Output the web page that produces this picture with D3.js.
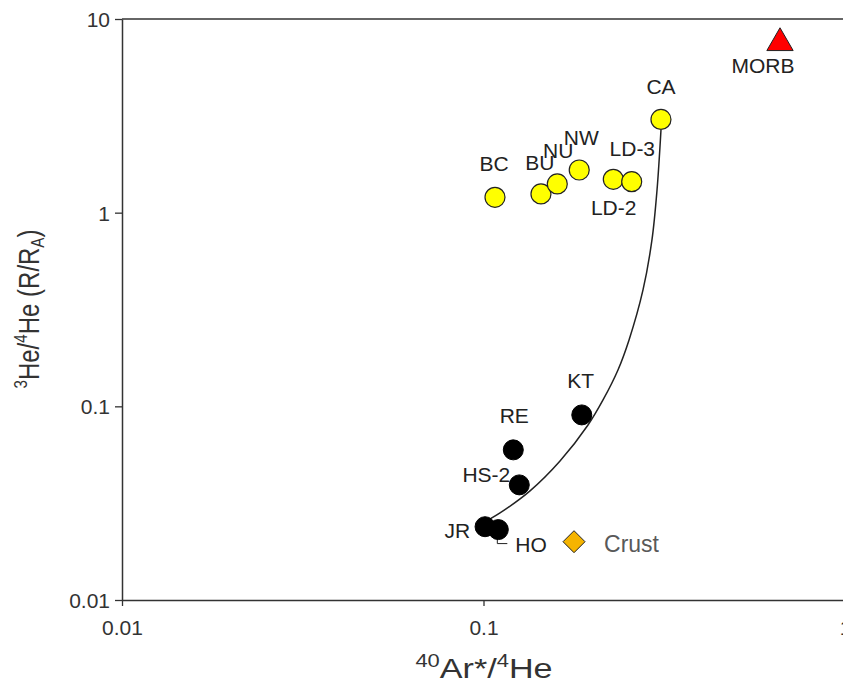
<!DOCTYPE html>
<html>
<head>
<meta charset="utf-8">
<script src="https://cdn.jsdelivr.net/npm/d3@7"></script>
<style>
  body { margin: 0; background: #fff; }
  text { font-family: "Liberation Sans", Arial, sans-serif; }
</style>
</head>
<body>
<div id="chart-area"></div>
<script>
// sample names and values (40Ar*/4He , 3He/4He R/RA)
var yellowNames = ["BC", "BU", "NU", "NW", "LD-3", "LD-2", "CA"];
var yellowAr = [0.1076, 0.1442, 0.160, 0.184, 0.2286, 0.257, 0.3097];
var yellowHe = [1.20, 1.249, 1.407, 1.661, 1.487, 1.446, 3.03];

var blackNames = ["KT", "RE", "HS-2", "JR", "HO"];
var blackAr = [0.187, 0.1209, 0.1256, 0.1010, 0.1099];
var blackHe = [0.0903, 0.0596, 0.0393, 0.0239, 0.0231];

var morbAr = [0.661], morbHe = [7.52];
var crustAr = [0.178], crustHe = [0.0200];

// mixing curve
var curveAr = [0.0995, 0.1111, 0.1345, 0.1628, 0.1946, 0.2141, 0.2355, 0.2527, 0.2762, 0.2924, 0.302, 0.3097];
var curveHe = [0.0250, 0.02817, 0.0366, 0.0522, 0.0801, 0.1079, 0.1541, 0.2202, 0.399, 0.723, 1.31, 2.673];

var xTicks = [0.01, 0.1, 1];
var xTickLabels = ["0.01", "0.1", "1"];
var yTicks = [0.01, 0.1, 1, 10];
var yTickLabels = ["0.01", "0.1", "1", "10"];

// label offsets from the point (dx, dy, anchor)
var labelPos = {
    "BC": [-1, -26, "middle"], "BU": [-1, -24, "middle"], "NU": [1, -26, "middle"],
    "NW": [2, -25, "middle"], "LD-3": [19, -23, "middle"], "LD-2": [-18, 33, "middle"],
    "CA": [0, -25, "middle"], "KT": [-1, -27, "middle"], "RE": [1, -27, "middle"],
    "HS-2": [-9, -3, "end"], "JR": [-15, 11, "end"], "HO": [17, 22, "start"],
    "MORB": [-17, 30, "middle"], "Crust": [30, 10, "start"]
};

var W = 843, H = 684;
var svg = d3.select("#chart-area")
    .append("svg")
        .attr("width", W)
        .attr("height", H);

var x = d3.scaleLog()
    .domain([0.01, 1])
    .range([122, 845]);

var y = d3.scaleLog()
    .domain([0.01, 10])
    .range([600, 19]);

// top frame line
svg.append("line")
    .attr("x1", 122).attr("x2", W)
    .attr("y1", y(10)).attr("y2", y(10))
    .attr("stroke", "#333").attr("stroke-width", 1.5);

var xAxisCall = d3.axisBottom(x)
    .tickValues(xTicks)
    .tickSize(6)
    .tickSizeOuter(0)
    .tickFormat((d, i) => xTickLabels[i]);

var xAxis = svg.append("g")
    .attr("transform", "translate(0," + y(0.01) + ")")
    .call(xAxisCall);

var yAxisCall = d3.axisLeft(y)
    .tickValues(yTicks)
    .tickSize(7)
    .tickSizeOuter(0)
    .tickFormat((d, i) => yTickLabels[i]);

var yAxis = svg.append("g")
    .attr("transform", "translate(" + x(0.01) + ",0)")
    .call(yAxisCall);

[xAxis, yAxis].forEach((a) => {
    a.select(".domain").attr("stroke", "#333").attr("stroke-width", 1.5);
    a.selectAll(".tick line").attr("stroke", "#333").attr("stroke-width", 1.3);
    a.selectAll(".tick text")
        .attr("font-family", "Liberation Sans, Arial, sans-serif")
        .attr("font-size", "21px")
        .attr("fill", "#333");
});
xAxis.selectAll(".tick text").attr("y", 14).attr("dy", "1em");
yAxis.selectAll(".tick text").attr("x", -12).attr("dy", "0.36em");

// X label
var xl = svg.append("text")
    .attr("transform", "translate(484,678) scale(1.22,1)")
    .attr("text-anchor", "middle")
    .attr("font-size", "28px")
    .attr("fill", "#333");
xl.append("tspan").attr("font-size", "18px").attr("dy", -11).text("40");
xl.append("tspan").attr("dy", 11).text("Ar*/");
xl.append("tspan").attr("font-size", "18px").attr("dy", -11).text("4");
xl.append("tspan").attr("dy", 11).text("He");

// Y label
var yl = svg.append("text")
    .attr("transform", "translate(39,309) rotate(-90) scale(0.8,1)")
    .attr("text-anchor", "middle")
    .attr("font-size", "30px")
    .attr("fill", "#333");
yl.append("tspan").attr("font-size", "19px").attr("dy", -12).text("3");
yl.append("tspan").attr("dy", 12).text("He/");
yl.append("tspan").attr("font-size", "19px").attr("dy", -12).text("4");
yl.append("tspan").attr("dy", 12).text("He (R/R");
yl.append("tspan").attr("font-size", "19px").attr("dy", 5).text("A");
yl.append("tspan").attr("dy", -5).text(")");

// mixing curve
var curveData = curveAr.map((d, i) => ({ ar: d, he: curveHe[i] }));
var line = d3.line()
    .x((d) => x(d.ar))
    .y((d) => y(d.he))
    .curve(d3.curveCatmullRom.alpha(0.5));

svg.append("path")
    .datum(curveData)
    .attr("d", line)
    .attr("fill", "none")
    .attr("stroke", "#222")
    .attr("stroke-width", 1.5);

// HO leader
var hoI = blackNames.indexOf("HO");
svg.append("path")
    .attr("d", "M" + (x(blackAr[hoI]) - 1) + "," + (y(blackHe[hoI]) + 9) +
        "V" + (y(blackHe[hoI]) + 14) + "H" + (x(blackAr[hoI]) + 9))
    .attr("fill", "none")
    .attr("stroke", "#222")
    .attr("stroke-width", 1);

var blackData = blackNames.map((n, i) => ({ name: n, ar: blackAr[i], he: blackHe[i] }));
var yellowData = yellowNames.map((n, i) => ({ name: n, ar: yellowAr[i], he: yellowHe[i] }));

svg.selectAll("circle.black")
    .data(blackData)
    .enter()
    .append("circle")
        .attr("class", "black")
        .attr("cx", (d) => x(d.ar))
        .attr("cy", (d) => y(d.he))
        .attr("r", 10)
        .attr("fill", "#000")
        .attr("stroke", "#000");

svg.selectAll("circle.yellow")
    .data(yellowData)
    .enter()
    .append("circle")
        .attr("class", "yellow")
        .attr("cx", (d) => x(d.ar))
        .attr("cy", (d) => y(d.he))
        .attr("r", 10)
        .attr("fill", "#ffff00")
        .attr("stroke", "#222")
        .attr("stroke-width", 1.2);

// MORB triangle
svg.append("path")
    .attr("d", d3.symbol().type(d3.symbolTriangle).size(300))
    .attr("transform", "translate(" + x(morbAr[0]) + "," + y(morbHe[0]) + ")")
    .attr("fill", "#ff0000")
    .attr("stroke", "#222")
    .attr("stroke-width", 1);

// Crust diamond
svg.append("path")
    .attr("d", "M0,-11L11,0L0,11L-11,0Z")
    .attr("transform", "translate(" + x(crustAr[0]) + "," + y(crustHe[0]) + ")")
    .attr("fill", "#f5b400")
    .attr("stroke", "#222")
    .attr("stroke-width", 1);

// labels
var labels = blackData.concat(yellowData)
    .concat([{ name: "MORB", ar: morbAr[0], he: morbHe[0] },
             { name: "Crust", ar: crustAr[0], he: crustHe[0] }]);

svg.selectAll("text.lbl")
    .data(labels)
    .enter()
    .append("text")
        .attr("class", "lbl")
        .attr("x", (d) => x(d.ar) + labelPos[d.name][0])
        .attr("y", (d) => y(d.he) + labelPos[d.name][1])
        .attr("text-anchor", (d) => labelPos[d.name][2])
        .attr("font-size", (d) => d.name === "Crust" ? "23px" : "21px")
        .attr("fill", (d) => d.name === "Crust" ? "#595959" : "#222")
        .text((d) => d.name);
</script>
</body>
</html>
